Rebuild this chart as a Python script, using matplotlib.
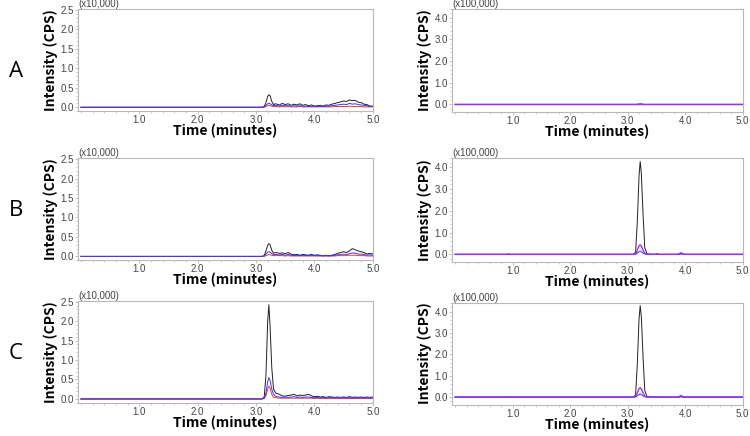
import numpy as np
import matplotlib.pyplot as plt
from matplotlib.ticker import MultipleLocator, FormatStrFormatter

# --- data ---------------------------------------------------------------
# left column: intensity in units of 10,000 cps
t_left = [0.00, 3.10, 3.14, 3.17, 3.20, 3.22, 3.24, 3.27, 3.30, 3.34, 3.40,
          3.45, 3.50, 3.55, 3.60, 3.65, 3.70, 3.75, 3.80, 3.85, 3.90, 3.95,
          4.00, 4.05, 4.10, 4.15, 4.20, 4.25, 4.30, 4.35, 4.40, 4.45, 4.50,
          4.55, 4.60, 4.65, 4.70, 4.75, 4.80, 4.85, 4.90, 4.95, 5.00]

a_black = [0, 0, 0.02, 0.12, 0.28, 0.32, 0.30, 0.15, 0.07, 0.09, 0.06,
           0.10, 0.07, 0.09, 0.05, 0.08, 0.06, 0.09, 0.05, 0.07, 0.04, 0.06,
           0.03, 0.04, 0.05, 0.03, 0.06, 0.05, 0.08, 0.10, 0.12, 0.14, 0.16,
           0.15, 0.19, 0.17, 0.18, 0.13, 0.12, 0.08, 0.07, 0.03, 0.03]
a_blue = [0, 0, 0.01, 0.05, 0.09, 0.10, 0.09, 0.06, 0.04, 0.05, 0.03,
          0.05, 0.04, 0.04, 0.03, 0.04, 0.03, 0.04, 0.03, 0.03, 0.02, 0.03,
          0.02, 0.02, 0.03, 0.02, 0.03, 0.03, 0.04, 0.05, 0.06, 0.07, 0.08,
          0.07, 0.10, 0.08, 0.09, 0.07, 0.06, 0.05, 0.04, 0.02, 0.02]
a_red = [0, 0, 0, 0.02, 0.04, 0.05, 0.04, 0.03, 0.02, 0.02, 0.01,
         0.02, 0.01, 0.02, 0.01, 0.01, 0.01, 0.02, 0.01, 0.01, 0.01, 0.01,
         0.01, 0.01, 0.01, 0.01, 0.01, 0.01, 0.01, 0.02, 0.02, 0.02, 0.02,
         0.02, 0.03, 0.02, 0.02, 0.02, 0.02, 0.01, 0.01, 0.01, 0.01]

b_black = [0, 0, 0.02, 0.14, 0.29, 0.33, 0.30, 0.16, 0.08, 0.10, 0.08,
           0.09, 0.07, 0.10, 0.06, 0.04, 0.05, 0.03, 0.05, 0.04, 0.03, 0.05,
           0.03, 0.04, 0.03, 0.02, 0.03, 0.02, 0.03, 0.05, 0.08, 0.10, 0.12,
           0.10, 0.14, 0.20, 0.17, 0.14, 0.12, 0.10, 0.06, 0.08, 0.06]
b_blue = [0, 0, 0.01, 0.06, 0.11, 0.12, 0.11, 0.07, 0.04, 0.05, 0.04,
          0.05, 0.03, 0.05, 0.03, 0.02, 0.03, 0.02, 0.03, 0.02, 0.02, 0.03,
          0.02, 0.02, 0.02, 0.01, 0.02, 0.01, 0.02, 0.03, 0.04, 0.05, 0.06,
          0.05, 0.07, 0.09, 0.08, 0.06, 0.06, 0.05, 0.03, 0.04, 0.03]
b_red = [0, 0, 0, 0.02, 0.04, 0.05, 0.04, 0.03, 0.02, 0.02, 0.02,
         0.02, 0.01, 0.02, 0.01, 0.01, 0.01, 0.01, 0.01, 0.01, 0.01, 0.01,
         0.01, 0.01, 0.01, 0.01, 0.01, 0.01, 0.01, 0.01, 0.02, 0.02, 0.02,
         0.02, 0.03, 0.03, 0.03, 0.02, 0.02, 0.02, 0.01, 0.01, 0.01]

c_black = [0, 0, 0.05, 0.60, 2.00, 2.42, 1.90, 0.80, 0.25, 0.15, 0.12,
           0.08, 0.07, 0.09, 0.10, 0.12, 0.08, 0.10, 0.09, 0.10, 0.12, 0.08,
           0.06, 0.07, 0.05, 0.06, 0.04, 0.06, 0.05, 0.04, 0.05, 0.04, 0.05,
           0.04, 0.06, 0.04, 0.05, 0.04, 0.05, 0.04, 0.05, 0.04, 0.05]
c_blue = [0, 0, 0.02, 0.15, 0.45, 0.55, 0.48, 0.25, 0.12, 0.06, 0.05,
          0.04, 0.05, 0.04, 0.05, 0.06, 0.04, 0.05, 0.04, 0.05, 0.05, 0.04,
          0.03, 0.04, 0.03, 0.04, 0.03, 0.03, 0.04, 0.03, 0.03, 0.03, 0.04,
          0.03, 0.03, 0.03, 0.03, 0.03, 0.03, 0.03, 0.03, 0.03, 0.03]
c_red = [0, 0, 0.01, 0.08, 0.25, 0.33, 0.28, 0.12, 0.04, 0.03, 0.02,
         0.02, 0.02, 0.02, 0.02, 0.02, 0.02, 0.02, 0.02, 0.02, 0.02, 0.02,
         0.01, 0.02, 0.01, 0.01, 0.01, 0.01, 0.01, 0.01, 0.01, 0.01, 0.01,
         0.01, 0.01, 0.01, 0.01, 0.01, 0.01, 0.01, 0.01, 0.01, 0.01]

# right column: intensity in units of 100,000 cps
t_right = [0.00, 0.90, 0.93, 0.96, 3.10, 3.14, 3.17, 3.20, 3.22, 3.24, 3.27,
           3.30, 3.34, 3.48, 3.51, 3.54, 3.88, 3.91, 3.93, 3.95, 3.98, 5.00]

ra_black = [0, 0, 0, 0, 0, 0, 0.01, 0.02, 0.03, 0.02, 0.01,
            0, 0, 0, 0, 0, 0, 0, 0, 0, 0, 0]
ra_blue = [0, 0, 0, 0, 0, 0, 0, 0, 0.01, 0, 0,
           0, 0, 0, 0, 0, 0, 0, 0, 0, 0, 0]
ra_mag = [0, 0, 0, 0, 0, 0, 0, 0, 0.01, 0, 0,
          0, 0, 0, 0, 0, 0, 0, 0, 0, 0, 0]

rb_black = [0, 0, 0.02, 0, 0, 0.10, 1.50, 3.60, 4.25, 3.70, 1.80,
            0.30, 0.02, 0, 0.02, 0, 0, 0.02, 0.04, 0.02, 0, 0]
rb_blue = [0, 0, 0.01, 0, 0, 0.01, 0.06, 0.12, 0.15, 0.12, 0.06,
           0.02, 0, 0, 0.03, 0, 0, 0.05, 0.08, 0.05, 0, 0]
rb_mag = [0, 0, 0, 0, 0, 0.02, 0.20, 0.40, 0.44, 0.38, 0.20,
          0.05, 0, 0, 0.01, 0, 0, 0.01, 0.02, 0.01, 0, 0]

rc_black = [0, 0, 0.01, 0, 0, 0.10, 1.55, 3.65, 4.28, 3.75, 1.85,
            0.30, 0.02, 0, 0.01, 0, 0, 0.02, 0.04, 0.02, 0, 0]
rc_blue = [0, 0, 0, 0, 0, 0.01, 0.06, 0.12, 0.15, 0.12, 0.06,
           0.02, 0, 0, 0.01, 0, 0, 0.05, 0.08, 0.05, 0, 0]
rc_mag = [0, 0, 0, 0, 0, 0.02, 0.20, 0.40, 0.44, 0.38, 0.20,
          0.05, 0, 0, 0, 0, 0, 0.01, 0.02, 0.01, 0, 0]

row_labels = ["A", "B", "C"]

# --- figure -------------------------------------------------------------
fig = plt.figure(figsize=(7.5, 4.36), dpi=100)

lab_font = dict(family=["Noto Sans CJK KR", "DejaVu Sans"], weight="bold", fontsize=10)
tick_gray = "#444444"
frame_gray = "#b8b8b8"

# [left, bottom, width, height] in figure fraction
left_pos = [[0.104, 0.745, 0.393, 0.234],
            [0.104, 0.403, 0.393, 0.234],
            [0.104, 0.076, 0.393, 0.234]]
right_pos = [[0.603, 0.743, 0.387, 0.237],
             [0.603, 0.399, 0.387, 0.239],
             [0.603, 0.072, 0.387, 0.234]]

left_data = [(a_black, a_blue, a_red), (b_black, b_blue, b_red), (c_black, c_blue, c_red)]
right_data = [(ra_black, ra_blue, ra_mag), (rb_black, rb_blue, rb_mag), (rc_black, rc_blue, rc_mag)]


def style_axes(ax, ymin, ymax, ymajor, yminor, offset):
    ax.set_xlim(-0.05, 5.0)
    ax.set_ylim(ymin, ymax)
    ax.xaxis.set_major_locator(plt.FixedLocator([1, 2, 3, 4, 5]))
    ax.xaxis.set_minor_locator(MultipleLocator(0.2))
    ax.yaxis.set_major_locator(MultipleLocator(ymajor))
    ax.yaxis.set_minor_locator(MultipleLocator(yminor))
    ax.xaxis.set_major_formatter(FormatStrFormatter("%.1f"))
    ax.yaxis.set_major_formatter(FormatStrFormatter("%.1f"))
    for s in ax.spines.values():
        s.set_color(frame_gray)
        s.set_linewidth(0.8)
    ax.tick_params(which="major", length=2, width=0.6, color=frame_gray,
                   labelsize=7, labelcolor=tick_gray, pad=1)
    ax.tick_params(which="minor", length=1.2, width=0.5, color=frame_gray)
    for lbl in ax.get_xticklabels() + ax.get_yticklabels():
        lbl.set_family("Liberation Sans")
    ax.set_xlabel("Time (minutes)", labelpad=-1, **lab_font)
    ax.set_ylabel("Intensity (CPS)", labelpad=2, **lab_font)
    ax.text(0.0, 1.0, offset, transform=ax.transAxes, fontsize=7,
            family="Liberation Sans", color=tick_gray, va="bottom", ha="left")


for i in range(3):
    ax = fig.add_axes(left_pos[i])
    k, b, r = left_data[i]
    ax.plot(t_left, k, color="#222222", lw=0.7)
    ax.plot(t_left, r, color="#e83a3a", lw=0.7)
    ax.plot(t_left, b, color="#3535ff", lw=0.7)
    style_axes(ax, -0.1, 2.52, 0.5, 0.1, "(x10,000)")

    ax2 = fig.add_axes(right_pos[i])
    k, b, m = right_data[i]
    ax2.plot(t_right, k, color="#222222", lw=0.7)
    ax2.plot(t_right, b, color="#5050ff", lw=0.9)
    ax2.plot(t_right, m, color="#a030e8", lw=1.0)
    style_axes(ax2, -0.35, 4.42, 1.0, 0.2, "(x100,000)")

label_y = [0.835, 0.518, 0.19]
for lab, y in zip(row_labels, label_y):
    fig.text(0.021, y, lab, fontsize=16, family="Open Sans", ha="center", va="center")

fig.savefig("out.png", dpi=100)
